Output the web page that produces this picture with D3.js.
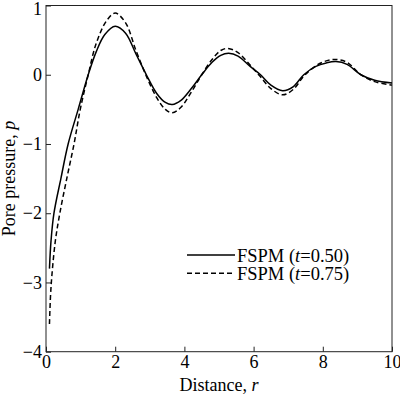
<!DOCTYPE html>
<html>
<head>
<meta charset="utf-8">
<script src="https://cdn.jsdelivr.net/npm/d3@7"></script>
<style>
  body { margin: 0; background: #fff; }
  svg { display: block; font-family: "Liberation Serif", "Times New Roman", serif; }
</style>
</head>
<body>
<div id="chart"></div>
<script>
var width = 400,
    height = 395,
    margin = { top: 5.5, right: 8, bottom: 43.3, left: 46 };

// t = 0.50 (solid)
var r50 = [0.1, 0.145, 0.23, 0.43, 0.64, 0.93, 1.22, 1.45, 1.7, 2.0, 2.3, 2.6, 2.9, 3.2, 3.45, 3.65, 3.9, 4.2, 4.5, 4.8, 5.05, 5.28, 5.55, 5.9, 6.2, 6.5, 6.84, 7.15, 7.45, 7.8, 8.1, 8.38, 8.7, 9.1, 9.5, 10];
var p50 = [-2.8, -2.4, -2.0, -1.5, -1.0, -0.5, 0.0, 0.33, 0.58, 0.7, 0.6, 0.3, 0.0, -0.27, -0.4, -0.43, -0.37, -0.2, 0.0, 0.18, 0.28, 0.31, 0.27, 0.12, 0.0, -0.15, -0.23, -0.17, 0.0, 0.12, 0.17, 0.19, 0.15, 0.0, -0.08, -0.12];

// t = 0.75 (dashed)
var r75 = [0.1, 0.13, 0.17, 0.27, 0.4, 0.6, 0.81, 0.99, 1.22, 1.45, 1.75, 2.0, 2.3, 2.6, 2.9, 3.2, 3.45, 3.65, 3.9, 4.2, 4.5, 4.8, 5.05, 5.25, 5.55, 5.9, 6.2, 6.5, 6.84, 7.15, 7.45, 7.8, 8.1, 8.38, 8.7, 9.1, 9.5, 10];
var p75 = [-3.6, -3.2, -2.9, -2.4, -2.0, -1.5, -1.0, -0.5, 0.0, 0.45, 0.78, 0.89, 0.75, 0.35, -0.02, -0.33, -0.5, -0.55, -0.47, -0.25, 0.0, 0.22, 0.35, 0.38, 0.32, 0.14, -0.03, -0.2, -0.29, -0.21, -0.02, 0.13, 0.2, 0.22, 0.18, 0.0, -0.1, -0.15];

var xTicks = [0, 2, 4, 6, 8, 10];
var yTicks = [-4, -3, -2, -1, 0, 1];
var legendLabels = ["t=0.50", "t=0.75"];

var svg = d3.select("#chart").append("svg")
    .attr("width", width)
    .attr("height", height);

var x = d3.scaleLinear().domain([0, 10]).range([margin.left, width - margin.right]);
var y = d3.scaleLinear().domain([-4, 1]).range([height - margin.bottom, margin.top]);

var fmt = function (d) { return d < 0 ? "\u2212" + Math.abs(d) : "" + d; };

// axes with inward ticks
var xAxis = svg.append("g")
    .attr("transform", "translate(0," + y(-4) + ")")
    .call(d3.axisBottom(x).tickValues(xTicks).tickSizeInner(-5).tickSizeOuter(0).tickPadding(4).tickFormat(fmt));
var yAxis = svg.append("g")
    .attr("transform", "translate(" + x(0) + ",0)")
    .call(d3.axisLeft(y).tickValues(yTicks).tickSizeInner(-5).tickSizeOuter(0).tickPadding(4).tickFormat(fmt));

[xAxis, yAxis].forEach(function (a) {
    a.select(".domain").remove();
    a.selectAll("line").attr("stroke", "#222");
    a.selectAll("text").attr("font-size", "18px").attr("fill", "#000")
        .style("font-family", "'Liberation Serif', serif");
});
// keep the top label inside the picture
yAxis.selectAll(".tick text").filter(function (d) { return d === 1; }).attr("dy", "0.5em");

// frame
svg.append("rect")
    .attr("x", x(0)).attr("y", y(1))
    .attr("width", x(10) - x(0)).attr("height", y(-4) - y(1))
    .attr("fill", "none").attr("stroke", "#222").attr("stroke-width", 1);

var line = d3.line()
    .x(function (d) { return x(d[0]); })
    .y(function (d) { return y(d[1]); })
    .curve(d3.curveCatmullRom);

svg.append("path")
    .datum(d3.zip(r75, p75))
    .attr("d", line)
    .attr("fill", "none").attr("stroke", "#000").attr("stroke-width", 1.5)
    .attr("stroke-dasharray", "5,3");

svg.append("path")
    .datum(d3.zip(r50, p50))
    .attr("d", line)
    .attr("fill", "none").attr("stroke", "#000").attr("stroke-width", 1.5);

// axis titles
var xt = svg.append("text")
    .attr("x", (x(0) + x(10)) / 2).attr("y", 391)
    .attr("text-anchor", "middle").attr("font-size", "18px");
xt.append("tspan").text("Distance, ");
xt.append("tspan").attr("font-style", "italic").text("r");

var yt = svg.append("text")
    .attr("transform", "translate(15," + (y(1) + y(-4)) / 2 + ") rotate(-90)")
    .attr("text-anchor", "middle").attr("font-size", "18px");
yt.append("tspan").text("Pore pressure, ");
yt.append("tspan").attr("font-style", "italic").text("p");

// legend
var legend = svg.append("g");
legendLabels.forEach(function (lab, i) {
    var ly = 255 + i * 18.3;
    legend.append("line")
        .attr("x1", 187).attr("x2", 235).attr("y1", ly).attr("y2", ly)
        .attr("stroke", "#000").attr("stroke-width", 1.5)
        .attr("stroke-dasharray", i === 1 ? "5,3" : null);
    var t = legend.append("text")
        .attr("x", 237).attr("y", ly + 6.5).attr("font-size", "18.5px");
    t.append("tspan").text("FSPM (");
    t.append("tspan").attr("font-style", "italic").text(lab.split("=")[0]);
    t.append("tspan").text("=" + lab.split("=")[1] + ")");
});
</script>
</body>
</html>
